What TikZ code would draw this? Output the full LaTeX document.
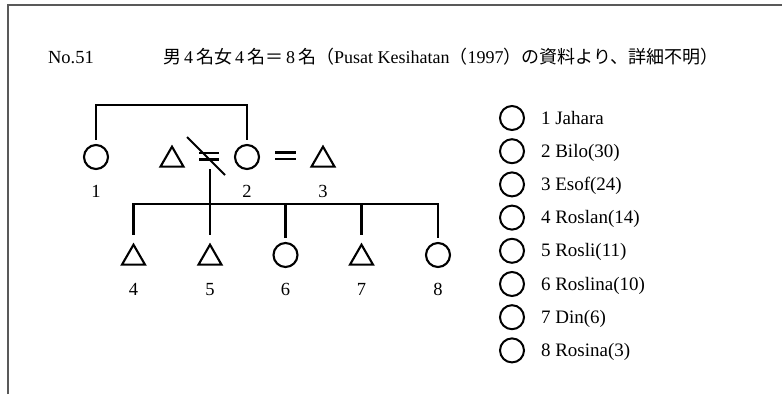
\documentclass[tikz,border=0pt]{standalone}
\usepackage{fontspec}
\setmainfont{Liberation Serif}
\newfontfamily\jp{Noto Sans CJK JP}
\usetikzlibrary{shapes.geometric}
\begin{document}
\begin{tikzpicture}[x=1pt,y=-1pt,line width=2.1pt,
  fem/.style={circle,draw,minimum size=24pt,inner sep=0pt,outer sep=5pt},
  mal/.style={regular polygon,regular polygon sides=3,draw,minimum size=26.6pt,inner sep=0pt,outer sep=5pt},
  lab/.style={font=\fontsize{18.5}{20}\selectfont,inner sep=0pt,anchor=base},
  leg/.style={circle,draw,minimum size=24pt,inner sep=0pt,line width=2pt},
  legtxt/.style={font=\fontsize{19}{21}\selectfont,anchor=base west,inner sep=0pt},
  frame/.style={draw=black!65,line width=2pt}]
\useasboundingbox (0,0) rectangle (782,394);
\fill[white] (0,0) rectangle (782,394);
% frame
\draw[frame] (8,394) -- (8,5) -- (782,5);
% header
\node[legtxt,font=\fontsize{18.5}{20}\selectfont] (no) at (47,63) {No.51};
\node[legtxt,font=\fontsize{18}{20}\selectfont] (head) at (162,63)
 {{\jp 男}\,4\,{\jp 名女}\,4\,{\jp 名＝}\,8\,{\jp 名（}Pusat Kesihatan{\jp （}1997{\jp ）の資料より、詳細不明）}};
% parents
\node[fem] (c1) at (96,157) {};
\node[mal] (t0) at (172,160) {};
\node[fem] (c2) at (247,157) {};
\node[mal] (t3) at (323,160) {};
\node[lab] (l1) at (96,197) {1};
\node[lab] (l2) at (247,197) {2};
\node[lab] (l3) at (323,197) {3};
\draw (c1.north) -- (c1.north |- 0,105) -| (c2.north);
% not-equal sign
\coordinate (ne1) at (199,153);
\coordinate (ne2) at (219,153);
\coordinate (ne3) at (199,159.5);
\coordinate (ne4) at (219,159.5);
\coordinate (sl1) at (187,137);
\coordinate (sl2) at (225,175);
\draw (ne1) -- (ne2) (ne3) -- (ne4);
\draw[line width=1.8pt] (sl1) -- (sl2);
% equal sign
\coordinate (eq1) at (275,152.5);
\coordinate (eq2) at (296,152.5);
\coordinate (eq3) at (275,159);
\coordinate (eq4) at (296,159);
\draw (eq1) -- (eq2) (eq3) -- (eq4);
% children
\coordinate (m) at (210,169);
\coordinate (bar) at (0,204);
\node[mal] (k4) at (133.5,258) {};
\node[mal] (k5) at (210,258) {};
\node[fem] (k6) at (285.5,255) {};
\node[mal] (k7) at (361.5,258) {};
\node[fem] (k8) at (438,255) {};
\draw (m) -- (k5.north);
\draw (k4.north) -- (k4.north |- bar) -- (k8.north |- bar) -- (k8.north);
\draw (k6.north) -- (k6.north |- bar);
\draw (k7.north) -- (k7.north |- bar);
\node[lab] (l4) at (133.5,295) {4};
\node[lab] (l5) at (210,295) {5};
\node[lab] (l6) at (285.5,295) {6};
\node[lab] (l7) at (361.5,295) {7};
\node[lab] (l8) at (438,295) {8};
% legend
\foreach \i/\t in {0/1 Jahara,1/2 Bilo(30),2/3 Esof(24),3/4 Roslan(14),4/5 Rosli(11),5/6 Roslina(10),6/7 Din(6),7/8 Rosina(3)}{
  \node[leg] (g\i) at (512,{118+33.2*\i}) {};
  \node[legtxt] (gt\i) at (540,{124+33.2*\i}) {\t};
}
\end{tikzpicture}
\end{document}
